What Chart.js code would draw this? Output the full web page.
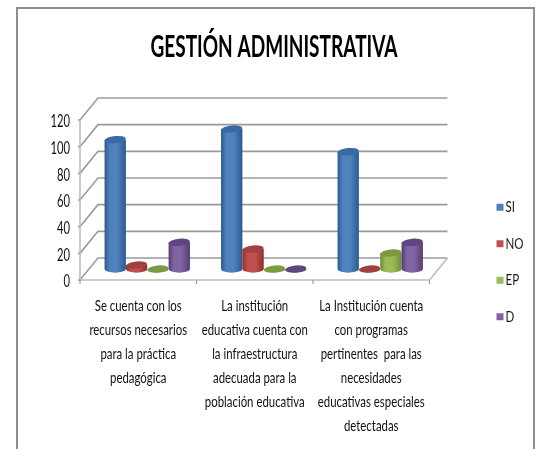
<!DOCTYPE html>
<html><head><meta charset="utf-8">
<style>html,body{margin:0;padding:0;background:#fff}
#w{position:relative;width:539px;height:450px;overflow:hidden}
canvas{position:absolute;left:0;top:0}</style>
<script src="https://cdn.jsdelivr.net/npm/chart.js@4"></script></head>
<body><div id="w"><canvas id="c" width="539" height="450"></canvas></div>
<script>
const categories=[
 ["Se cuenta con los","recursos necesarios","para la práctica","pedagógica"],
 ["La institución","educativa cuenta con","la infraestructura","adecuada para la","población educativa"],
 ["La Institución cuenta","con programas","pertinentes  para las","necesidades","educativas especiales","detectadas"]];
const seriesSI=[97,105,88];
const seriesNO=[3,15,0];
const seriesEP=[0,0,12];
const seriesD=[20,0,20];
const yTicks=[0,20,40,60,80,100,120];
const chartTitle="GESTIÓN ADMINISTRATIVA";
const FONT='Lato,"Open Sans",sans-serif';
const palette={SI:['#4F81BD','#2C5A8F','#7FA6D6','#3A6AA3'],NO:['#C0504D','#8E2F2C','#DB7A77','#A33F3C'],EP:['#9BBB59','#6E8C35','#B6D07C','#7C9A40'],D:['#8064A2','#553C75','#A48BC2','#5F4680']};
const depth={bx:18,by:-22,mx:9,my:-11};
const condense={30:0.635,17:0.66,15:0.76,16:0.72};
const canvas=document.getElementById('c');
const rawCtx=canvas.getContext('2d');
const rawFill=rawCtx.fillText.bind(rawCtx);
rawCtx.fillText=function(t,x,y){
 const m=/(\d+(?:\.\d+)?)px/.exec(rawCtx.font);
 const s=m?Math.round(+m[1]):0;
 const f=condense[s]||1;
 rawFill(t,s===16?x-6:x,s===17?y+2:y,rawCtx.measureText(t).width*f);
};
const scene={id:'scene',
 afterLayout(ch){
  const l=ch.legend;
  l.left=476;l.right=539;
  const dy=262-(l.top+l.bottom)/2;l.top+=dy;l.bottom+=dy;
  const t=ch.titleBlock;t.left=48;t.right=500;
 },
 beforeDatasetsDraw(ch){
  const {ctx,chartArea:a,scales:{y}}=ch;
  ctx.save();
  ctx.lineWidth=1.6;ctx.strokeStyle='#9A9A9A';
  yTicks.forEach(t=>{const p=y.getPixelForValue(t);
   ctx.beginPath();ctx.moveTo(a.left-2,p);ctx.lineTo(a.left,p);ctx.lineTo(a.left+depth.bx,p+depth.by);ctx.lineTo(a.right+depth.bx,p+depth.by);ctx.stroke();});
  const p0=y.getPixelForValue(0);
  ctx.strokeStyle='#BDBDBD';
  ctx.beginPath();ctx.moveTo(a.left,y.getPixelForValue(120));ctx.lineTo(a.left,p0);ctx.lineTo(a.right,p0);ctx.lineTo(a.right+depth.bx,p0+depth.by);ctx.stroke();
  ctx.lineWidth=1;ctx.strokeStyle='#8C8C8C';
  [0,1,2,3].forEach(i=>{const px=a.left+(a.right-a.left)*i/3;ctx.beginPath();ctx.moveTo(px,p0);ctx.lineTo(px,p0+4);ctx.stroke();});
  ctx.restore();
 },
 afterDatasetsDraw(ch){
  const ctx=ch.ctx;
  ch.data.datasets.forEach((ds,di)=>{
   const col=palette[ds.label];
   ch.getDatasetMeta(di).data.forEach(el=>{
    const cx=el.x+depth.mx,top=el.y+depth.my,base=el.base+depth.my,w=el.width/2,ry=w*0.34,rot=-0.1;
    ctx.save();
    const g=ctx.createLinearGradient(cx-w,0,cx+w,0);
    g.addColorStop(0,col[1]);g.addColorStop(0.25,col[0]);g.addColorStop(0.6,col[0]);g.addColorStop(1,col[1]);
    ctx.fillStyle=g;
    ctx.beginPath();ctx.moveTo(cx-w,top);ctx.lineTo(cx-w,base);
    ctx.ellipse(cx,base,w,ry,0,Math.PI,0,true);
    ctx.lineTo(cx+w,top);ctx.closePath();ctx.fill();
    ctx.fillStyle=col[3];
    ctx.beginPath();ctx.ellipse(cx,top,w,ry,rot,0,Math.PI*2);ctx.fill();
    ctx.restore();
   });
  });
 },
 afterDraw(ch){
  const ctx=ch.ctx;ctx.save();ctx.strokeStyle='#8E8E8E';ctx.lineWidth=2;
  ctx.beginPath();ctx.moveTo(17,449);ctx.lineTo(17,8);ctx.lineTo(534,8);ctx.lineTo(534,449);ctx.stroke();ctx.restore();
 }};
const clear='rgba(0,0,0,0)';
new Chart(canvas,{
 type:'bar',
 data:{labels:categories,datasets:[
  {label:'SI',data:seriesSI,backgroundColor:clear},
  {label:'NO',data:seriesNO,backgroundColor:clear},
  {label:'EP',data:seriesEP,backgroundColor:clear},
  {label:'D',data:seriesD,backgroundColor:clear}]},
 plugins:[scene],
 options:{responsive:false,animation:false,
  layout:{padding:{left:10,right:39,top:0,bottom:0}},
  datasets:{bar:{categoryPercentage:0.733,barPercentage:1}},
  plugins:{
   tooltip:{enabled:false},
   title:{display:true,text:chartTitle,color:'#000',font:{family:FONT,size:30,weight:'bold',lineHeight:1.2},padding:{top:29,bottom:55}},
   legend:{position:'right',align:'center',labels:{boxWidth:7,boxHeight:7,padding:20.5,color:'#1a1a1a',font:{family:FONT,size:16},
    generateLabels(ch){return ch.data.datasets.map((d,i)=>({text:d.label,fillStyle:palette[d.label][0],strokeStyle:palette[d.label][0],lineWidth:0,hidden:false,datasetIndex:i,fontColor:'#1a1a1a'}));}}}
  },
  scales:{
   x:{grid:{display:false},border:{display:false},afterFit(s){s.height=170;},ticks:{color:'#111',maxRotation:0,autoSkip:false,font:{family:FONT,size:15,lineHeight:1.6},padding:6.5}},
   y:{min:0,max:120,grid:{display:false},border:{display:false},afterFit(s){s.width=70;},afterBuildTicks(s){s.ticks=yTicks.map(v=>({value:v}));},ticks:{color:'#111',font:{family:FONT,size:17},padding:2}}
  }
 }
});
</script></body></html>
